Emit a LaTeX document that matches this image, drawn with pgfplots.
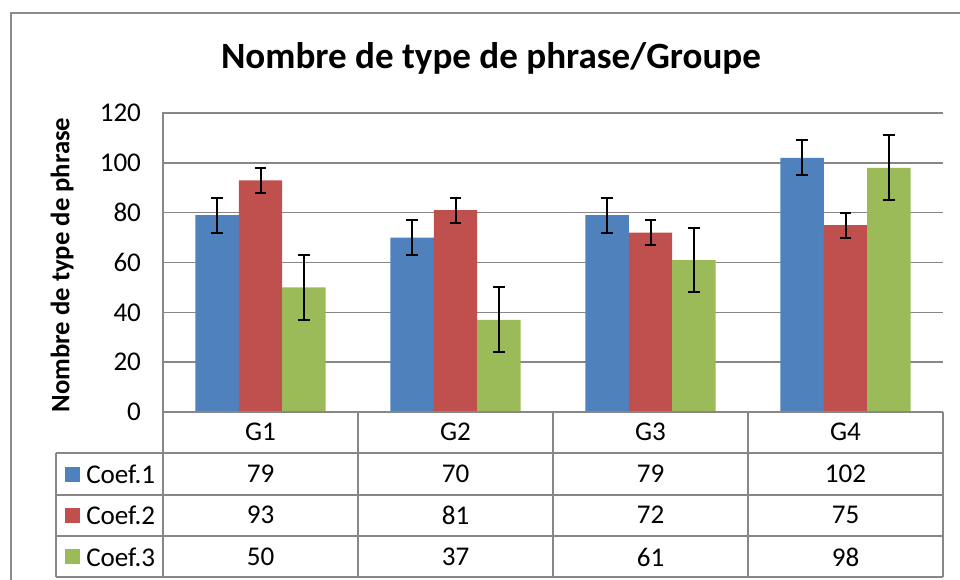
\documentclass[border=0pt]{standalone}
\usepackage{fontspec}
\setmainfont{Carlito}
\usepackage{pgfplots}
\pgfplotsset{compat=1.18}
\definecolor{c1}{HTML}{4F81BD}
\definecolor{c2}{HTML}{C0504D}
\definecolor{c3}{HTML}{9BBB59}
\definecolor{gridc}{HTML}{878787}
\definecolor{borderc}{HTML}{8C8C8C}
\begin{document}
\begin{tikzpicture}
\useasboundingbox (0,0) rectangle (720pt,-435pt);
\begin{scope}[x=0.75pt,y=-0.75pt]
\draw[borderc, line width=1.2pt] (11,13) rectangle (1000,640);
\node[font=\fontsize{27.8}{33}\selectfont\bfseries] at (491,58) {Nombre de type de phrase/Groupe};
\node[rotate=90, font=\fontsize{20}{24}\selectfont\bfseries] at (62,265) {Nombre de type de phrase};
\end{scope}
\begin{axis}[
  at={(122.25pt,-309pt)}, anchor=south west,
  scale only axis, width=585pt, height=224.25pt,
  xmin=-0.5, xmax=3.5, ymin=0, ymax=120,
  ytick={0,20,...,120}, xtick={0,1,2,3}, xticklabels={G1,G2,G3,G4},
  axis line style={draw=none},
  major tick length=0pt,
  ymajorgrids, grid style={gridc, line width=1.1pt},
  /pgf/number format/assume math mode=true,
  ticklabel style={font=\fontsize{20.3}{24}\selectfont},
  yticklabel style={anchor=east, xshift=-13pt},
  xticklabel style={anchor=center, yshift=-15pt},
  ybar=0pt, bar width=32.6pt,
  error bars/y dir=both, error bars/y explicit,
  error bars/error bar style={black, line width=1.5pt},
  error bars/error mark options={rotate=90, mark size=4.25pt, line width=1.5pt, black},
  clip=false,
]
\addplot[fill=c1, draw=none, bar shift=-32.6pt] coordinates {(0,79) +- (0,7) (1,70) +- (0,7) (2,79) +- (0,7) (3,102) +- (0,7)};
\addplot[fill=c2, draw=none, bar shift=0pt] coordinates {(0,93) +- (0,5) (1,81) +- (0,5) (2,72) +- (0,5) (3,75) +- (0,5)};
\addplot[fill=c3, draw=none, bar shift=32.6pt] coordinates {(0,50) +- (0,13) (1,37) +- (0,13) (2,61) +- (0,13) (3,98) +- (0,13)};
\end{axis}
\begin{scope}[x=0.75pt,y=-0.75pt, line width=1.1pt, gridc]
\draw (163,412)--(943,412);
\draw (56,453)--(943,453);
\draw (56,495)--(943,495);
\draw (56,536)--(943,536);
\draw (56,577)--(943,577);
\draw (163,112)--(163,577);
\draw (56,453)--(56,577);
\draw (358,412)--(358,577);
\draw (553,412)--(553,577);
\draw (748,412)--(748,577);
\draw (943,412)--(943,577);
\end{scope}
\begin{scope}[x=0.75pt,y=-0.75pt, every node/.style={font=\fontsize{20.3}{24}\selectfont, text=black}]
\fill[c1] (65,467) rectangle (80,482);
\fill[c2] (65,508) rectangle (80,523);
\fill[c3] (65,549) rectangle (80,564);
\node[anchor=west, inner sep=0pt] at (86,474) {Coef.1};
\node[anchor=west, inner sep=0pt] at (86,515) {Coef.2};
\node[anchor=west, inner sep=0pt] at (86,557) {Coef.3};
\node at (260.5,474) {79}; \node at (455.5,474) {70}; \node at (650.5,474) {79}; \node at (845.5,474) {102};
\node at (260.5,515) {93}; \node at (455.5,515) {81}; \node at (650.5,515) {72}; \node at (845.5,515) {75};
\node at (260.5,557) {50}; \node at (455.5,557) {37}; \node at (650.5,557) {61}; \node at (845.5,557) {98};
\end{scope}
\end{tikzpicture}
\end{document}
